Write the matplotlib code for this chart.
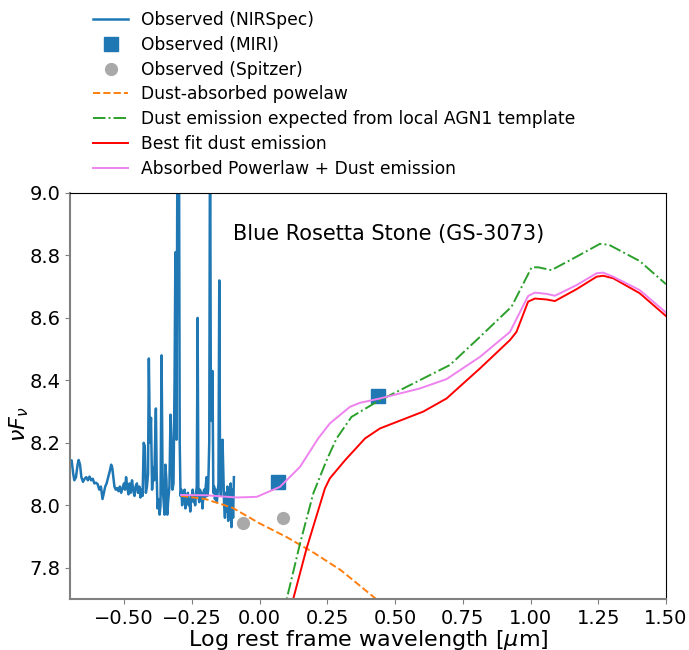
import numpy as np
import matplotlib
matplotlib.use("Agg")
import matplotlib.pyplot as plt

# NIRSpec spectrum (log rest wavelength [um], log nuFnu)
nir_x = [-0.700, -0.694, -0.688, -0.684, -0.678, -0.672, -0.668, -0.663, -0.658, -0.652,
         -0.646, -0.640, -0.634, -0.628, -0.622, -0.616, -0.610, -0.604, -0.598, -0.592,
         -0.586, -0.580, -0.575, -0.570, -0.565, -0.559, -0.553, -0.548, -0.544, -0.540,
         -0.536, -0.531, -0.526, -0.521, -0.516, -0.511, -0.506, -0.501, -0.497, -0.493,
         -0.489, -0.484, -0.480, -0.476, -0.471, -0.467, -0.462, -0.458, -0.453, -0.449,
         -0.444, -0.440, -0.436, -0.432, -0.428, -0.424, -0.420, -0.416, -0.412, -0.409,
         -0.405, -0.401, -0.397, -0.393, -0.389, -0.386, -0.383, -0.380, -0.377, -0.373,
         -0.369, -0.366, -0.362, -0.358, -0.355, -0.351, -0.348, -0.344, -0.341, -0.337,
         -0.333, -0.329, -0.326, -0.322, -0.318, -0.314, -0.311, -0.307, -0.303, -0.298,
         -0.295, -0.292, -0.289, -0.286, -0.283, -0.280, -0.277, -0.274, -0.271, -0.268,
         -0.265, -0.262, -0.259, -0.256, -0.253, -0.250, -0.247, -0.244, -0.241, -0.238,
         -0.235, -0.232, -0.229, -0.226, -0.223, -0.220, -0.217, -0.214, -0.211, -0.208,
         -0.205, -0.202, -0.199, -0.196, -0.193, -0.190, -0.186, -0.183, -0.180, -0.177,
         -0.174, -0.171, -0.168, -0.165, -0.162, -0.158, -0.155, -0.152, -0.149, -0.146,
         -0.143, -0.140, -0.137, -0.134, -0.131, -0.128, -0.125, -0.122, -0.119, -0.116,
         -0.113, -0.110, -0.107, -0.104, -0.101, -0.098, -0.095]
nir_y = [8.14, 8.144, 8.10, 8.08, 8.09, 8.13, 8.145, 8.13, 8.09, 8.075,
         8.085, 8.09, 8.08, 8.092, 8.08, 8.085, 8.07, 8.072, 8.068, 8.05,
         8.06, 8.02, 8.04, 8.06, 8.07, 8.09, 8.11, 8.13, 8.12, 8.09,
         8.06, 8.05, 8.055, 8.045, 8.06, 8.04, 8.055, 8.07, 8.05, 8.09,
         8.06, 8.035, 8.07, 8.04, 8.08, 8.05, 8.03, 8.06, 8.07, 8.04,
         8.06, 8.025, 8.05, 8.03, 8.20, 8.19, 8.04, 8.06, 8.10, 8.47,
         8.20, 8.28, 8.05, 8.12, 8.08, 8.20, 8.31, 8.10, 7.99, 8.02,
         7.97, 8.00, 8.48, 8.05, 8.02, 7.97, 8.13, 8.08, 7.97, 8.02,
         8.06, 8.29, 8.22, 8.05, 8.07, 8.40, 8.81, 8.21, 9.30, 9.30,
         8.20, 8.03, 8.05, 8.00, 8.04, 8.02, 8.05, 7.99, 8.03, 8.01,
         8.04, 8.00, 8.02, 7.98, 8.03, 8.02, 8.05, 8.01, 8.03, 8.00,
         8.04, 8.06, 8.60, 8.03, 8.01, 8.05, 8.02, 8.04, 7.99, 8.03,
         8.05, 8.02, 8.06, 8.09, 8.03, 8.05, 8.20, 9.30, 8.30, 8.27,
         8.43, 8.04, 8.06, 8.02, 8.05, 8.01, 8.04, 8.07, 8.72, 8.07,
         8.03, 8.10, 8.21, 8.10, 8.00, 7.96, 8.04, 7.98, 8.06, 7.95,
         8.02, 7.97, 8.07, 7.93, 8.05, 7.96, 8.09]

# photometry
miri_x = [0.068, 0.437]
miri_y = [8.074, 8.349]
spitzer_x = [-0.062, 0.086]
spitzer_y = [7.942, 7.958]

# dust-absorbed power law
pl_x = [-0.29, -0.20, -0.10, 0.00, 0.10, 0.20, 0.30, 0.43, 0.50]
pl_y = [8.030, 8.020, 7.992, 7.942, 7.898, 7.848, 7.792, 7.700, 7.650]

# expected dust emission from local AGN1 template
agn_x = [0.090, 0.100, 0.149, 0.198, 0.247, 0.284, 0.339, 0.432, 0.542, 0.702,
         0.813, 0.930, 1.004, 1.029, 1.077, 1.157, 1.256, 1.290, 1.403, 1.500]
agn_y = [7.650, 7.700, 7.877, 8.038, 8.144, 8.214, 8.283, 8.331, 8.379, 8.449,
         8.539, 8.636, 8.762, 8.762, 8.753, 8.790, 8.837, 8.834, 8.782, 8.708]

# best-fit dust emission
fit_x = [0.110, 0.124, 0.173, 0.241, 0.259, 0.315, 0.389, 0.444, 0.604, 0.690,
         0.813, 0.924, 0.948, 0.991, 1.016, 1.059, 1.090, 1.170, 1.244, 1.268,
         1.305, 1.403, 1.500]
fit_y = [7.640, 7.700, 7.861, 8.054, 8.086, 8.144, 8.214, 8.246, 8.300, 8.342,
         8.438, 8.529, 8.555, 8.652, 8.662, 8.659, 8.654, 8.692, 8.732, 8.735,
         8.727, 8.679, 8.606]

# absorbed power law + dust emission
tot_x = [-0.290, -0.196, -0.085, -0.011, 0.075, 0.149, 0.216, 0.259, 0.333, 0.370,
         0.444, 0.591, 0.690, 0.813, 0.924, 0.991, 1.016, 1.059, 1.090, 1.170,
         1.244, 1.268, 1.305, 1.403, 1.500]
tot_y = [8.033, 8.032, 8.025, 8.027, 8.059, 8.123, 8.214, 8.262, 8.315, 8.328,
         8.342, 8.374, 8.404, 8.475, 8.555, 8.670, 8.681, 8.677, 8.671, 8.705,
         8.743, 8.745, 8.732, 8.689, 8.617]

fig = plt.figure(figsize=(6.89, 6.5), dpi=100)
ax = fig.add_axes([0.1016, 0.0785, 0.865, 0.6246])

ax.plot(nir_x, nir_y, color="#1f77b4", lw=1.8, label="Observed (NIRSpec)")
ax.plot(miri_x, miri_y, "s", color="#1f77b4", ms=9.5, ls="none", label="Observed (MIRI)")
ax.plot(spitzer_x, spitzer_y, "o", color="darkgray", ms=8.5, ls="none", label="Observed (Spitzer)")
ax.plot(pl_x, pl_y, "--", color="#ff7f0e", lw=1.4, label="Dust-absorbed powelaw")
ax.plot(agn_x, agn_y, "-.", color="#2ca02c", lw=1.4,
        label="Dust emission expected from local AGN1 template")
ax.plot(fit_x, fit_y, "-", color="red", lw=1.4, label="Best fit dust emission")
ax.plot(tot_x, tot_y, "-", color="violet", lw=1.4, label="Absorbed Powerlaw + Dust emission")

ax.set_xlim(-0.70, 1.50)
ax.set_ylim(7.7, 9.0)
ax.set_xticks([-0.50, -0.25, 0.00, 0.25, 0.50, 0.75, 1.00, 1.25, 1.50])
ax.set_xticklabels(["\u22120.50", "\u22120.25", "0.00", "0.25", "0.50", "0.75", "1.00", "1.25", "1.50"])
ax.set_yticks([7.8, 8.0, 8.2, 8.4, 8.6, 8.8, 9.0])
ax.tick_params(labelsize=14, color="gray")

for s in ["left", "bottom"]:
    ax.spines[s].set_color("gray")
    ax.spines[s].set_linewidth(1.5)

ax.set_xlabel(r"Log rest frame wavelength [$\mu$m]", fontsize=16, labelpad=0.5)
ax.set_ylabel(r"$\nu F_\nu$", fontsize=16)
ax.yaxis.set_label_coords(-0.066, 0.43)

ax.text(0.273, 0.90, "Blue Rosetta Stone (GS-3073)", transform=ax.transAxes,
        fontsize=15, va="center", ha="left")

fig.legend(loc="upper left", bbox_to_anchor=(0.117, 1.003), frameon=False, fontsize=12.3,
           labelspacing=0.4, borderpad=0.25)

fig.savefig("out.png", dpi=100)
